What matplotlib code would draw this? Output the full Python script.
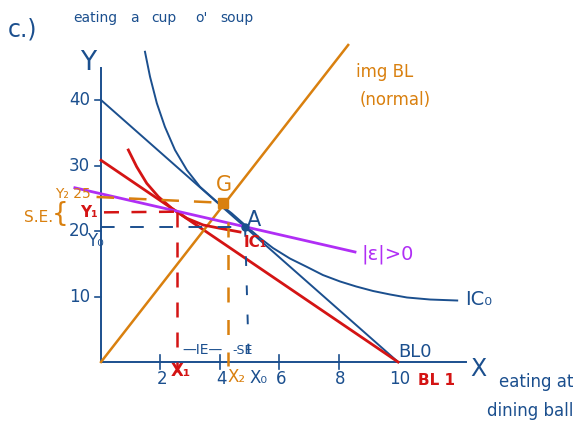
import matplotlib
matplotlib.use("Agg")
import matplotlib.pyplot as plt

plt.rcParams["font.family"] = ["DejaVu Sans"]

BLUE = "#1b4f8e"
RED = "#d41414"
ORANGE = "#d9800f"
PURPLE = "#b02ef5"

# budget lines: (x-intercept, y-intercept)
bl0 = (10.0, 40.0)
bl1 = (10.0, 30.8)

# indifference curves
ic0_x = [1.48, 1.65, 1.88, 2.15, 2.49, 2.89, 3.33, 3.90, 4.40, 4.91, 5.35, 5.79,
         6.36, 6.94, 7.47, 8.05, 8.59, 9.16, 9.73, 10.30, 11.08, 11.99]
ic0_y = [47.37, 43.56, 39.50, 35.92, 32.37, 29.31, 26.76, 24.47, 22.70, 20.66, 18.93, 17.40,
         15.80, 14.50, 13.28, 12.29, 11.53, 10.84, 10.31, 9.85, 9.54, 9.39]
ic1_x = [0.92, 1.20, 1.54, 1.93, 2.38, 2.89, 3.44, 4.01, 4.68]
ic1_y = [32.37, 29.82, 27.28, 25.24, 23.47, 21.94, 20.92, 20.41, 19.85]

# compensated line and the normal-good path
comp_x = [-0.88, 8.55]
comp_y = [26.6, 16.8]
path_x = [0.0, 8.32]
path_y = [0.0, 48.4]

# key bundles
G = (4.12, 24.3)
A = (4.85, 20.6)
T = (2.55, 22.95)
x2_line = 4.28

x_ticks = [2, 4, 6, 8, 10]
y_ticks = [10, 20, 30, 40]

fig = plt.figure(figsize=(5.79, 4.30), dpi=100)
ax = fig.add_axes([0, 0, 1, 1])
ax.set_xlim(-3.40, 16.09)
ax.set_ylim(-10.38, 55.27)
ax.axis("off")

# axes
ax.plot([0, 12.3], [0, 0], color=BLUE, lw=1.4)
ax.plot([0, 0], [0, 44.9], color=BLUE, lw=1.4)
for t in x_ticks[:-1]:
    ax.plot([t, t], [-1.0, 1.0], color=BLUE, lw=1.2)
for t in y_ticks:
    ax.plot([-0.2, 0.0], [t, t], color=BLUE, lw=1.2)

# budget lines
ax.plot([0, bl0[0]], [bl0[1], 0], color=BLUE, lw=1.4)
ax.plot([0, bl1[0]], [bl1[1], 0], color=RED, lw=2.0)

# normal-good path
ax.plot(path_x, path_y, color=ORANGE, lw=1.8)

# indifference curves
ax.plot(ic0_x, ic0_y, color=BLUE, lw=1.4, solid_joinstyle="round")
ax.plot(ic1_x, ic1_y, color=RED, lw=2.0, solid_joinstyle="round")

# compensated budget line
ax.plot(comp_x, comp_y, color=PURPLE, lw=2.0)

# guide lines
ax.plot([-0.15, G[0]], [25.2, G[1]], color=ORANGE, lw=1.8, linestyle=(0, (7, 6)))
ax.plot([x2_line, x2_line], [21.4, -0.6], color=ORANGE, lw=1.8, linestyle=(0, (6, 7)))
ax.plot([0.1, T[0]], [T[1] - 0.1, T[1]], color=RED, lw=1.8, linestyle=(0, (6, 5)))
ax.plot([T[0], T[0]], [T[1], -1.5], color=RED, lw=1.8, linestyle=(0, (6, 6)))
ax.plot([0.0, A[0]], [A[1], A[1]], color=BLUE, lw=1.4, linestyle=(0, (7, 8)))
ax.plot([A[0], A[0] + 0.12], [A[1], 1.0], color=BLUE, lw=1.4, linestyle=(0, (5, 10)))

# points
ax.plot(*G, marker="s", ms=7, color=ORANGE)
ax.plot(*A, marker="o", ms=5, color=BLUE)

fs = 12
# titles and axis names
ax.text(-2.65, 50.7, "c.)", color=BLUE, fontsize=17, ha="center", va="center")
words = [("eating", -0.2), ("a", 1.14), ("cup", 2.12), ("o'", 3.37), ("soup", 4.58)]
for w, xw in words:
    ax.text(xw, 52.5, w, color=BLUE, fontsize=10, ha="center", va="center")
ax.text(-0.44, 45.7, "Y", color=BLUE, fontsize=19, ha="center", va="center")
ax.text(12.7, -1.0, "X", color=BLUE, fontsize=17, ha="center", va="center")
ax.text(14.65, -3.0, "eating at", color=BLUE, fontsize=12, ha="center", va="center")
ax.text(14.45, -7.5, "dining ball", color=BLUE, fontsize=12, ha="center", va="center")

for t in y_ticks:
    ax.text(-0.72, t, str(t), color=BLUE, fontsize=fs, ha="center", va="center")
for t in x_ticks:
    ax.text(t + 0.05, -2.6, str(t), color=BLUE, fontsize=fs, ha="center", va="center")

ax.text(-0.2, 18.4, "Y₀", color=BLUE, fontsize=fs, ha="center", va="center")
ax.text(-0.42, 22.8, "Y₁", color=RED, fontsize=11, ha="center", va="center", fontweight="bold")
ax.text(-0.95, 25.7, "Y₂ 25", color=ORANGE, fontsize=10, ha="center", va="center")
ax.text(-2.1, 22.0, "S.E.", color=ORANGE, fontsize=11, ha="center", va="center")
ax.text(-1.38, 22.6, "{", color=ORANGE, fontsize=19, ha="center", va="center")

ax.text(2.69, -1.4, "X₁", color=RED, fontsize=fs, ha="center", va="center", fontweight="bold")
ax.text(4.55, -2.3, "X₂", color=ORANGE, fontsize=fs, ha="center", va="center")
ax.text(5.32, -2.4, "X₀", color=BLUE, fontsize=fs, ha="center", va="center")
ax.text(3.4, 1.8, "—IE—", color=BLUE, fontsize=10, ha="center", va="center")
ax.text(4.75, 1.8, "-SE", color=BLUE, fontsize=9, ha="center", va="center")

ax.text(4.15, 27.0, "G", color=ORANGE, fontsize=15, ha="center", va="center")
ax.text(5.15, 21.7, "A", color=BLUE, fontsize=15, ha="center", va="center")
ax.text(5.2, 18.2, "IC₁", color=RED, fontsize=11, ha="center", va="center", fontweight="bold")
ax.text(9.66, 16.5, "|ε|>0", color=PURPLE, fontsize=14, ha="center", va="center")
ax.text(12.7, 9.5, "IC₀", color=BLUE, fontsize=14, ha="center", va="center")
ax.text(10.57, 1.5, "BL0", color=BLUE, fontsize=13, ha="center", va="center")
ax.text(11.3, -2.75, "BL 1", color=RED, fontsize=11, ha="center", va="center", fontweight="bold")
ax.text(9.56, 44.3, "img BL", color=ORANGE, fontsize=12, ha="center", va="center")
ax.text(9.9, 40.0, "(normal)", color=ORANGE, fontsize=12, ha="center", va="center")

fig.savefig("out.png", dpi=100)
